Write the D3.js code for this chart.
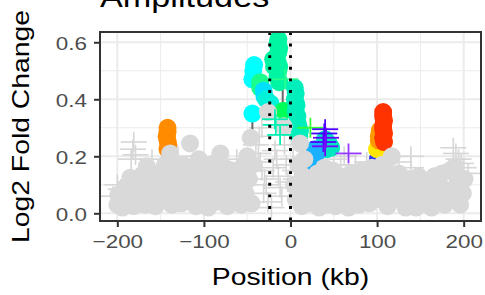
<!DOCTYPE html>
<html>
<head>
<meta charset="utf-8">
<script src="https://cdn.jsdelivr.net/npm/d3@7"></script>
<style>
  html, body { margin: 0; padding: 0; background: #fff; }
  svg { display: block; font-family: "Liberation Sans", Arial, sans-serif; }
</style>
</head>
<body>
<div id="chart"></div>
<script>
// Amplitudes: log2 fold change vs position around the locus
const xTicks = [-200, -100, 0, 100, 200];
const yTicks = [0, 0.2, 0.4, 0.6];
const boundaries = [-24, 0];

// non-significant points (grey circles)
const greyKb = [-200,-199,-194,-191,-187,-185,-181,-178,-174,-171,-168,-166,-162,-159,-156,-154,-151,-148,-145,-142,
  -139,-137,-135,-132,-129,-126,-124,-120,-116,-114,-112,-109,-106,-104,-101,-98,-95,-92,-89,-87,
  -84,-81,-78,-76,-73,-70,-68,-65,-62,-60,-57,-55,-52,-50,-48,-46,-45,-44,-26,-8,
  4,6,9,11,13,15,18,16,22,25,28,31,33,36,39,41,44,46,49,52,
  55,58,61,64,67,70,73,76,79,82,85,88,91,94,97,100,103,106,109,112,
  115,117,119,122,125,127,130,133,136,139,142,145,148,151,154,157,160,163,166,169,
  172,175,178,181,184,187,190,193,196,199,201];
const greyLfc = [0.03,0.065,0.02,0.09,0.05,0.125,0.025,0.09,0.055,0.135,0.03,0.165,0.10,0.06,0.025,0.14,0.09,0.05,0.17,0.12,
  0.21,0.03,0.16,0.08,0.12,0.035,0.17,0.10,0.245,0.06,0.15,0.025,0.19,0.11,0.05,0.15,0.02,0.085,0.175,0.04,
  0.12,0.21,0.07,0.16,0.025,0.11,0.15,0.06,0.13,0.09,0.03,0.165,0.07,0.20,0.12,0.265,0.035,0.17,0.355,0.305,
  0.10,0.05,0.17,0.245,0.025,0.13,0.07,0.19,0.035,0.11,0.06,0.14,0.02,0.09,0.16,0.03,0.12,0.06,0.15,0.025,
  0.09,0.13,0.05,0.10,0.02,0.14,0.07,0.11,0.03,0.15,0.08,0.12,0.035,0.16,0.09,0.13,0.05,0.17,0.10,0.025,
  0.14,0.20,0.07,0.12,0.14,0.045,0.09,0.02,0.12,0.06,0.10,0.02,0.13,0.07,0.035,0.11,0.08,0.02,0.13,0.06,
  0.10,0.14,0.03,0.08,0.15,0.05,0.165,0.11,0.03,0.07,0.12];

// non-significant windows (grey crosses)
const greyCrossKb = [-181,-182,-179,-184,-200,-196,-190,-205,-170,-160,-150,-130,-110,-95,-85,-62,-58,-55,
  -40,-37,-35,-33,-31,-30,-28,-26,-22,-20,-18,-16,-14,-12,-10,-7,-5,-3,-33,-36,
  3,5,6,50,58,62,75,88,92,125,139,139,150,172,188,191,194,197,200,205,185];
const greyCrossLfc = [0.25,0.225,0.205,0.19,0.10,0.085,0.07,0.06,0.04,0.19,0.12,0.20,0.07,0.13,0.06,0.19,0.05,0.10,
  0.24,0.21,0.18,0.15,0.07,0.12,0.10,0.04,0.02,0.16,0.22,0.19,0.13,0.09,0.06,0.24,0.17,0.11,0.30,0.27,
  0.19,0.15,0.12,0.19,0.17,0.20,0.17,0.18,0.05,0.18,0.20,0.16,0.04,0.05,0.23,0.21,0.19,0.175,0.16,0.14,0.09];

// significant points (coloured circles)
const sigKb = [-142,-142,-143,-142,-141,-142,
  -42,-43,-44,-44,-35,-35,-31,-30,-28,-23,
  -14,-15,-13,-14,-16,-15,-13,-14,-15,-13,-20,-19,-8,
  5,6,5,7,6,8,9,11,10,
  40,44,42,47,28,29,28,29,
  101,100,102,102,103,107,107,108,107,107,108,107,108];
const sigLfc = [0.30,0.285,0.27,0.255,0.24,0.225,
  0.52,0.50,0.47,0.35,0.46,0.44,0.43,0.41,0.40,0.385,
  0.61,0.595,0.58,0.565,0.55,0.53,0.515,0.50,0.48,0.46,0.54,0.515,0.36,
  0.44,0.42,0.40,0.38,0.36,0.34,0.31,0.29,0.27,
  0.26,0.245,0.225,0.23,0.225,0.205,0.185,0.165,
  0.19,0.225,0.27,0.255,0.29,0.355,0.34,0.325,0.31,0.295,0.28,0.265,0.25];
const sigGroup = ['o','o','o','o','o','o',
  'c','c','c','c','s','s','k','k','a','a',
  'm','m','m','m','m','m','m','m','m','m','m','m','g',
  't','t','t','t','t','t','t','t','t',
  'q','q','q','q','b','b','b','b',
  'n','y','r1','r1','r1','r','r','r','r','r','r','r','r'];

// significant windows (coloured crosses)
const sigCrossKb = [-6,-18,-17,-12,23,40,39,41,38,40,67];
const sigCrossLfc = [0.47,0.33,0.31,0.275,0.30,0.295,0.28,0.265,0.25,0.235,0.21];
const sigCrossGroup = ['s2','t2','t2','t2','g2','p1','p2','p3','p1','p4','p5'];

// links between original and shifted values
const linkKb = [-44, -9];
const linkFrom = [0.265, 0.36];
const linkTo = [0.35, 0.44];

const palette = {
  o:'#FF8C00', c:'#00FFFF', s:'#1AFF8C', k:'#00E1FF', a:'#00F2D9', m:'#00F5A3', g:'#00FF59',
  t:'#00EEBB', q:'#00E6C3', b:'#1AB2FF', n:'#2633FF', y:'#FFE600', r1:'#FF9900', r:'#FF3300',
  s2:'#26FF8C', t2:'#00F0B4', g2:'#33FF33', p1:'#5200FF', p2:'#4000FF', p3:'#6A00FF', p4:'#7A00FF', p5:'#9538FF'
};

const W = 485, H = 295;
const margin = {top: 32, right: 4, bottom: 74, left: 100};
const innerW = W - margin.left - margin.right;
const innerH = H - margin.top - margin.bottom;
const stretchK = 1.18;

const svg = d3.select('#chart').append('svg').attr('width', W).attr('height', H);
const g = svg.append('g').attr('transform', `translate(${margin.left},${margin.top})`);

const x = d3.scaleLinear().domain([-220, 220]).range([0, innerW]);
const y = d3.scaleLinear().domain([-0.027, 0.636]).range([innerH, 0]);

// the reference text is a bit wider than Liberation Sans, so stretch it
function widen(sel){
  sel.each(function(){
    const len = this.getComputedTextLength();
    d3.select(this).attr('textLength', len * stretchK).attr('lengthAdjust', 'spacingAndGlyphs');
  });
}

g.append('clipPath').attr('id', 'clip').append('rect').attr('width', innerW).attr('height', innerH);

// grid
const grid = g.append('g');
const minorX = [-150, -50, 50, 150], minorY = [0.1, 0.3, 0.5];
grid.selectAll('.mx').data(minorX).enter().append('line')
  .attr('x1', d => x(d)).attr('x2', d => x(d)).attr('y1', 0).attr('y2', innerH)
  .attr('stroke', '#EBEBEB').attr('stroke-width', 1);
grid.selectAll('.my').data(minorY).enter().append('line')
  .attr('y1', d => y(d)).attr('y2', d => y(d)).attr('x1', 0).attr('x2', innerW)
  .attr('stroke', '#EBEBEB').attr('stroke-width', 1);
grid.selectAll('.gx').data(xTicks).enter().append('line')
  .attr('x1', d => x(d)).attr('x2', d => x(d)).attr('y1', 0).attr('y2', innerH)
  .attr('stroke', '#EBEBEB').attr('stroke-width', 2);
grid.selectAll('.gy').data(yTicks).enter().append('line')
  .attr('y1', d => y(d)).attr('y2', d => y(d)).attr('x1', 0).attr('x2', innerW)
  .attr('stroke', '#EBEBEB').attr('stroke-width', 2);

const plot = g.append('g').attr('clip-path', 'url(#clip)');
const R = 9, CW = 13, CH = 10;

function crosses(kb, lfc, colorOf, width){
  const data = kb.map((k, i) => ({k, v: lfc[i], i}));
  const cg = plot.append('g');
  data.forEach(d => {
    const cx = x(d.k), cy = y(d.v), col = colorOf(d.i);
    cg.append('line').attr('x1', cx - CW).attr('x2', cx + CW).attr('y1', cy).attr('y2', cy)
      .attr('stroke', col).attr('stroke-width', width);
    cg.append('line').attr('x1', cx).attr('x2', cx).attr('y1', cy - CH).attr('y2', cy + CH)
      .attr('stroke', col).attr('stroke-width', width);
  });
}

// grey crosses at the back
crosses(greyCrossKb, greyCrossLfc, () => '#D6D6D6', 1.6);

// links
plot.selectAll('.link').data(linkKb).enter().append('line')
  .attr('x1', d => x(d)).attr('x2', d => x(d))
  .attr('y1', (d, i) => y(linkFrom[i])).attr('y2', (d, i) => y(linkTo[i]))
  .attr('stroke', '#666').attr('stroke-width', 2);

// coloured circles
plot.selectAll('.sig').data(sigKb).enter().append('circle')
  .attr('cx', d => x(d)).attr('cy', (d, i) => y(sigLfc[i])).attr('r', R)
  .attr('fill', (d, i) => palette[sigGroup[i]]);

// grey circles
plot.selectAll('.grey').data(greyKb).enter().append('circle')
  .attr('cx', d => x(d)).attr('cy', (d, i) => y(greyLfc[i])).attr('r', R)
  .attr('fill', '#D9D9D9');

// coloured crosses on top
crosses(sigCrossKb, sigCrossLfc, i => palette[sigCrossGroup[i]], 1.8);

// boundaries
plot.selectAll('.bd').data(boundaries).enter().append('line')
  .attr('x1', d => x(d)).attr('x2', d => x(d)).attr('y1', 0).attr('y2', innerH)
  .attr('stroke', '#000').attr('stroke-width', 2.9).attr('stroke-dasharray', '2.9 8.7');

// panel border
g.append('rect').attr('width', innerW).attr('height', innerH)
  .attr('fill', 'none').attr('stroke', '#333333').attr('stroke-width', 2);

// axes
const xAxis = g.append('g').attr('transform', `translate(0,${innerH})`)
  .call(d3.axisBottom(x).tickValues(xTicks).tickSize(6).tickPadding(6).tickFormat(d => d < 0 ? '\u2212' + Math.abs(d) : d));
const yAxis = g.append('g')
  .call(d3.axisLeft(y).tickValues(yTicks).tickSize(6).tickPadding(7).tickFormat(d3.format('.1f')));
[xAxis, yAxis].forEach(a => {
  a.select('.domain').remove();
  a.selectAll('.tick line').attr('stroke', '#333333').attr('stroke-width', 2);
  a.selectAll('.tick text').attr('fill', '#4D4D4D').attr('font-size', 19)
    .attr('font-family', '"Liberation Sans", Arial, sans-serif');
});
xAxis.selectAll('.tick text').attr('dy', null).attr('y', 27);
yAxis.selectAll('.tick text').attr('dy', '0.36em');
widen(xAxis.selectAll('.tick text'));
widen(yAxis.selectAll('.tick text'));

// titles
const xt = svg.append('text').attr('x', margin.left + innerW / 2).attr('y', 285)
  .attr('text-anchor', 'middle').attr('font-size', 24).attr('fill', '#000').text('Position (kb)');
const yt = svg.append('text').attr('transform', `translate(29,${margin.top + innerH / 2}) rotate(-90)`)
  .attr('text-anchor', 'middle').attr('font-size', 24).attr('fill', '#000').text('Log2 Fold Change');
const tt = svg.append('text').attr('x', margin.left).attr('y', 7)
  .attr('font-size', 29).attr('fill', '#000').text('Amplitudes');
widen(xt); widen(yt); widen(tt);
</script>
</body>
</html>
